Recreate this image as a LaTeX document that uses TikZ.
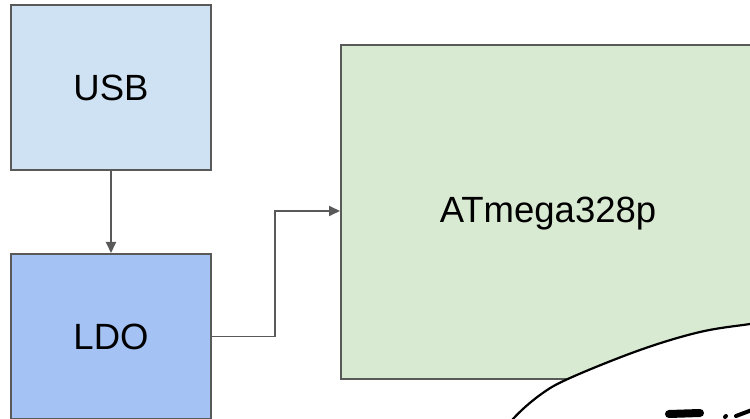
\documentclass[tikz,border=0pt]{standalone}
\usepackage{fontspec}
\setmainfont{Liberation Sans}
\usetikzlibrary{arrows.meta}
\definecolor{usbfill}{HTML}{CFE2F3}
\definecolor{ldofill}{HTML}{A4C2F4}
\definecolor{mcufill}{HTML}{D9EAD3}
\definecolor{edge}{HTML}{595959}
\begin{document}
\begin{tikzpicture}[x=1pt,y=-1pt,
  blk/.style={draw=edge,line width=2pt,inner sep=0pt,anchor=north west,
    font=\fontsize{36.5}{40}\selectfont},
  conn/.style={draw=edge,line width=1.8pt,-{Triangle[length=11pt,width=10pt]}}]
\useasboundingbox (0,0) rectangle (750,419);
\begin{scope}
\clip (0,0) rectangle (750,419);
\node[blk,fill=usbfill,minimum width=200pt,minimum height=165pt] (usb) at (10,4) {USB};
\node[blk,fill=ldofill,minimum width=200pt,minimum height=165pt] (ldo) at (10,253) {LDO};
\node[blk,fill=mcufill,minimum width=430pt,minimum height=334pt] (mcu) at (340,44) {};
\node[font=\fontsize{36.5}{40}\selectfont] (mcutxt) at (548,214) {ATmega328p};
\draw[conn] (usb.south) -- (ldo.north);
\coordinate (bend) at (275,211);
\draw[conn] (ldo.east) -| (bend) -- (bend -| mcu.west);
\draw[black,line width=2.2pt,fill=white] plot[smooth,tension=0.6] coordinates
  {(500,440) (513,419) (540,395) (570,378) (640,350) (700,332) (750,324) (770,321)}
  -- (770,440) -- cycle;
\draw[black,line width=8pt,line cap=round] (669,414) -- (700,413);
\draw[black,line width=4pt,line cap=round] (725,417) -- (726,416);
\draw[black,line width=4pt,line cap=round] (736,416) -- (752,410);
\end{scope}
\end{tikzpicture}
\end{document}
